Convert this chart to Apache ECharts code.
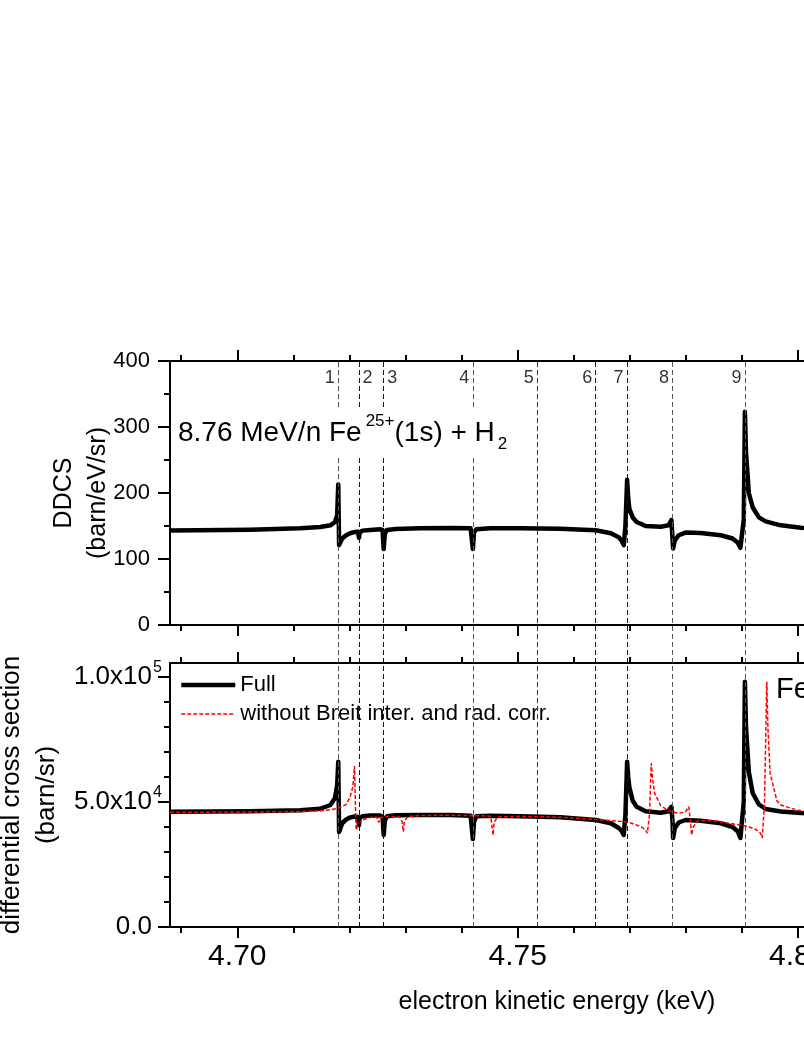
<!DOCTYPE html>
<html>
<head>
<meta charset="utf-8">
<title>DDCS 8.76 MeV/n Fe25+(1s) + H2</title>
<script src="https://cdn.jsdelivr.net/npm/echarts@6.0.0/dist/echarts.min.js"></script>
<style>
  html, body { margin: 0; padding: 0; background: #fff; }
  #frame { width: 804px; height: 1041px; overflow: hidden; }
  #main { width: 1000px; height: 1041px; }
</style>
</head>
<body>
<div id="frame"><div id="main"></div></div>
<script>
// energies in keV
var energyFull = [
  4.6880, 4.7023, 4.7112, 4.7148, 4.7166, 4.7174, 4.7178, 4.7180, 4.71815, 4.7187,
  4.7194, 4.7201, 4.7210, 4.7215, 4.7217, 4.7218, 4.7223, 4.7237, 4.7255, 4.7259,
  4.7261, 4.7263, 4.7267, 4.7282, 4.7326, 4.7380, 4.7416, 4.7420, 4.7422, 4.7426,
  4.7451, 4.7505, 4.7576, 4.7639, 4.7666, 4.7680, 4.7685, 4.7689, 4.7692, 4.7695,
  4.7697, 4.7699, 4.7705, 4.7712, 4.7728, 4.7755, 4.7769, 4.7774, 4.7776, 4.7777,
  4.7780, 4.7787, 4.7799, 4.7826, 4.7862, 4.7883, 4.7892, 4.7897, 4.7903, 4.7905,
  4.7907, 4.7912, 4.7919, 4.7930, 4.7942, 4.7969, 4.8005, 4.8058, 4.8130, 4.8200,
  4.8260
];
// upper panel: DDCS (barn/eV/sr)
var ddcsFull = [
  143, 144.5, 146.5, 148.5, 151, 156, 166, 213, 121, 131,
  136, 139, 141, 141.5, 132, 140, 143, 144, 145, 144,
  115, 138, 144, 145.5, 146.5, 147, 146.5, 115, 140, 145,
  146.5, 146.5, 146, 143.5, 139, 133, 128, 121, 150, 220,
  192, 176, 163, 156, 150, 149, 151, 159, 130, 116,
  128, 136, 140, 139.5, 136, 131, 125, 117, 160, 323,
  262, 200, 178, 163, 157, 151, 147.5, 146, 145, 144,
  143.5
];
// lower panel: differential cross section (barn/sr), full calculation
var csFull = [
  46100, 46300, 46700, 47300, 48800, 51500, 56500, 66100, 38000, 41500,
  43000, 43800, 44200, 44000, 40800, 43500, 44300, 44600, 44600, 44000,
  36800, 42500, 44300, 44700, 44800, 44800, 44500, 35200, 42000, 44300,
  44500, 44300, 43900, 42800, 41500, 39600, 38500, 36800, 45000, 66100,
  60000, 56000, 50500, 48100, 46300, 45700, 46300, 48100, 42000, 35600,
  39500, 41800, 42800, 42500, 41500, 40000, 38300, 35600, 50000, 98100,
  80000, 62000, 53500, 49000, 47200, 46200, 45600, 45200, 45000, 44900,
  44800
];
// lower panel: without Breit interaction and radiative corrections
var energyNoBreit = [
  4.6880, 4.7023, 4.7112, 4.7148, 4.7166, 4.7180, 4.7194, 4.7201, 4.7206, 4.7209,
  4.7211, 4.7212, 4.7216, 4.7223, 4.7237, 4.7248, 4.7252, 4.7255, 4.7270, 4.7290,
  4.7294, 4.7296, 4.7298, 4.7304, 4.7326, 4.7380, 4.7430, 4.7452, 4.7456, 4.7458,
  4.7464, 4.7505, 4.7576, 4.7639, 4.7680, 4.7699, 4.7712, 4.7722, 4.7728, 4.7731,
  4.7735, 4.7738, 4.7740, 4.7744, 4.7755, 4.7769, 4.7787, 4.7799, 4.7805, 4.7808,
  4.7810, 4.7813, 4.7820, 4.7840, 4.7862, 4.7897, 4.7912, 4.7926, 4.7933, 4.7936,
  4.7940, 4.7944, 4.7946, 4.7950, 4.7962, 4.7969, 4.7987, 4.8005, 4.8058, 4.8130,
  4.8200, 4.8260
];
var csNoBreit = [
  45900, 46000, 46200, 46500, 46900, 47500, 49000, 52000, 56000, 64400,
  45000, 38800, 41500, 42800, 43800, 44000, 41800, 43800, 44300, 44000,
  42000, 38100, 42500, 44200, 44600, 44700, 44500, 44300, 36800, 42000,
  44000, 44300, 43900, 43000, 42300, 41800, 40800, 39800, 38800, 37500,
  45000, 65500, 60000, 53500, 48500, 46500, 45500, 46000, 48100, 42000,
  36800, 40000, 42300, 42600, 42000, 40800, 40100, 38800, 37500, 35600,
  50000, 98100, 80000, 61500, 50500, 48800, 47500, 46500, 45500, 45200,
  45000, 44900
];
// resonance positions (dashed lines) and their labels
var resonanceEnergy = [4.7180, 4.7217, 4.7261, 4.7420, 4.7535, 4.7639, 4.7695, 4.7776, 4.7905];
var resonanceLabel = ['1', '2', '3', '4', '5', '6', '7', '8', '9'];
var rightOfLine = ['2', '3'];
var lineShade = ['#555', '#111', '#111', '#555', '#333', '#111', '#111', '#555', '#555'];

// tick values
var xMajor = [4.70, 4.75, 4.80];
var xMinor = [4.69, 4.71, 4.72, 4.73, 4.74, 4.76, 4.77, 4.78, 4.79, 4.81, 4.82];
var csMajor = [0, 50000, 100000];
var csMinor = [10000, 20000, 30000, 40000, 60000, 70000, 80000, 90000];

var FONT = '"Liberation Sans", Arial, Helvetica, sans-serif';
var xMin = 4.688, xMax = 4.826;
var labelLevel = 374;

function pairs(xs, ys) {
  return xs.map(function (x, i) { return [x, ys[i]]; });
}

function tickAxis(grid, pos, ticks, len, showLine) {
  return {
    type: 'value', gridIndex: grid, position: pos, min: xMin, max: xMax,
    axisLine: { show: showLine, onZero: false, lineStyle: { color: '#000', width: 2 } },
    axisTick: { show: true, customValues: ticks, length: len, lineStyle: { color: '#000', width: 2 } },
    axisLabel: { show: false },
    splitLine: { show: false }
  };
}

var chart = echarts.init(document.getElementById('main'), null, { renderer: 'canvas' });

var xAxes = [
  tickAxis(0, 'bottom', xMajor, 11, true),
  tickAxis(0, 'bottom', xMinor, 6, false),
  tickAxis(0, 'top', xMajor, 11, true),
  tickAxis(0, 'top', xMinor, 6, false),
  tickAxis(1, 'top', xMajor, 11, true),
  tickAxis(1, 'top', xMinor, 6, false),
  tickAxis(1, 'bottom', xMajor, 11, true),
  tickAxis(1, 'bottom', xMinor, 6, false),
  { type: 'value', gridIndex: 2, min: xMin, max: xMax, show: false }
];
xAxes[6].axisLabel = {
  show: true, customValues: xMajor, margin: 15, fontSize: 30, color: '#000', fontFamily: FONT,
  formatter: function (v) { return v.toFixed(2); }
};
xAxes[6].name = 'electron kinetic energy (keV)';
xAxes[6].nameLocation = 'middle';
xAxes[6].nameGap = 63;
xAxes[6].nameMoveOverlap = false;
xAxes[6].nameTextStyle = { fontSize: 25, color: '#000', fontFamily: FONT };

var option = {
  animation: false,
  backgroundColor: '#fff',
  grid: [
    { left: 170, top: 361, right: 56, height: 264, outerBoundsMode: 'none' },
    { left: 170, top: 663, right: 56, height: 264, outerBoundsMode: 'none' },
    { left: 170, top: 361, right: 56, height: 566, outerBoundsMode: 'none' }
  ],
  xAxis: xAxes,
  yAxis: [
    {
      type: 'value', gridIndex: 0, position: 'left', min: 0, max: 400, interval: 100,
      axisLine: { show: true, onZero: false, lineStyle: { color: '#000', width: 2 } },
      axisTick: { show: true, length: 12, lineStyle: { color: '#000', width: 2 } },
      minorTick: { show: true, splitNumber: 2, length: 6, lineStyle: { color: '#000', width: 2 } },
      axisLabel: { margin: 20, fontSize: 22, color: '#000', fontFamily: FONT },
      splitLine: { show: false },
      name: 'DDCS\n(barn/eV/sr)', nameLocation: 'middle', nameRotate: 90, nameGap: 55,
      nameMoveOverlap: false,
      nameTextStyle: { fontSize: 25, lineHeight: 34, color: '#000', fontFamily: FONT }
    },
    {
      type: 'value', gridIndex: 1, position: 'left', min: 0, max: 105600,
      axisLine: { show: true, onZero: false, lineStyle: { color: '#000', width: 2 } },
      axisTick: { show: true, customValues: csMajor, length: 12, lineStyle: { color: '#000', width: 2 } },
      axisLabel: {
        customValues: csMajor, margin: 8, color: '#000', fontFamily: FONT,
        formatter: function (v) {
          if (v === 0) return '{m|0.0}{s| }';
          var e = Math.floor(Math.log10(v) + 1e-9);
          return '{m|' + (v / Math.pow(10, e)).toFixed(1) + 'x10}{s|' + e + '}';
        },
        rich: {
          m: { fontSize: 26, lineHeight: 34, color: '#000', fontFamily: FONT },
          s: { fontSize: 16, lineHeight: 16, verticalAlign: 'top', width: 10, color: '#000', fontFamily: FONT }
        }
      },
      splitLine: { show: false },
      name: 'differential cross section\n(barn/sr)', nameLocation: 'middle', nameRotate: 90, nameGap: 106,
      nameMoveOverlap: false,
      nameTextStyle: { fontSize: 26, lineHeight: 35, color: '#000', fontFamily: FONT }
    },
    {
      type: 'value', gridIndex: 1, position: 'left', min: 0, max: 105600,
      axisLine: { show: false, onZero: false },
      axisTick: { show: true, customValues: csMinor, length: 6, lineStyle: { color: '#000', width: 2 } },
      axisLabel: { show: false },
      splitLine: { show: false }
    },
    { type: 'value', gridIndex: 2, min: 0, max: 1, show: false }
  ],
  legend: {
    data: ['Full', 'without Breit inter. and rad. corr.'],
    orient: 'vertical', left: 179, top: 674, padding: 0,
    itemWidth: 54, itemHeight: 14, itemGap: 7,
    itemStyle: { opacity: 0 },
    lineStyle: { width: 'inherit' },
    textStyle: { fontSize: 22, color: '#000', fontFamily: FONT }
  },
  series: [
    {
      name: 'DDCS full', type: 'line', xAxisIndex: 0, yAxisIndex: 0, z: 3,
      symbol: 'none', data: pairs(energyFull, ddcsFull),
      lineStyle: { color: '#000', width: 4.5, join: 'round' }
    },
    {
      name: 'Full', type: 'line', xAxisIndex: 6, yAxisIndex: 1, z: 3,
      symbol: 'none', data: pairs(energyFull, csFull),
      itemStyle: { color: '#000' },
      lineStyle: { color: '#000', width: 4.5, join: 'round' }
    },
    {
      name: 'without Breit inter. and rad. corr.', type: 'line', xAxisIndex: 6, yAxisIndex: 1, z: 4,
      symbol: 'none', data: pairs(energyNoBreit, csNoBreit),
      itemStyle: { color: '#ff0000' },
      lineStyle: { color: '#ff0000', width: 1.5, type: [4, 2] }
    },
    {
      name: 'resonances', type: 'line', xAxisIndex: 8, yAxisIndex: 3, z: 1,
      data: [], symbol: 'none',
      markLine: {
        silent: true, symbol: ['none', 'none'], animation: false, precision: 6,
        label: { show: false },
        lineStyle: { type: [5, 3], width: 1, color: '#333' },
        data: resonanceEnergy.map(function (e, i) {
          var st = { color: lineShade[i], type: [5, 3], width: 1 };
          return [{ coord: [e, 0], lineStyle: st }, { coord: [e, 1], lineStyle: st }];
        })
      }
    },
    {
      name: 'resonance labels', type: 'scatter', xAxisIndex: 0, yAxisIndex: 0, z: 5,
      symbolSize: 1, itemStyle: { color: 'rgba(0,0,0,0)' }, silent: true,
      data: resonanceEnergy.map(function (e, i) {
        return {
          value: [e, labelLevel],
          label: { position: rightOfLine.indexOf(resonanceLabel[i]) >= 0 ? 'right' : 'left' }
        };
      }),
      label: {
        show: true, distance: 3, fontSize: 18, color: '#000', fontFamily: FONT,
        formatter: function (p) { return resonanceLabel[p.dataIndex]; }
      }
    }
  ],
  graphic: [
    {
      type: 'text', left: 172, top: 408, z: 100,
      style: {
        text: '{m|8.76 MeV/n Fe}{sup|25+}{m|(1s) + H}{sub|2}',
        backgroundColor: '#fff', padding: [5, 4, 5, 6],
        rich: {
          m: { fontSize: 28, lineHeight: 40, fill: '#000', fontFamily: FONT },
          sup: { fontSize: 17, lineHeight: 17, verticalAlign: 'top', padding: [0, 0, 0, 4], fill: '#000', fontFamily: FONT },
          sub: { fontSize: 17, lineHeight: 17, verticalAlign: 'bottom', padding: [0, 0, 0, 3], fill: '#000', fontFamily: FONT }
        }
      }
    },
    {
      type: 'text', left: 776, top: 675, z: 100,
      style: { text: 'Fe', fontSize: 29, fill: '#000', fontFamily: FONT }
    }
  ]
};

chart.setOption(option);
</script>
</body>
</html>
